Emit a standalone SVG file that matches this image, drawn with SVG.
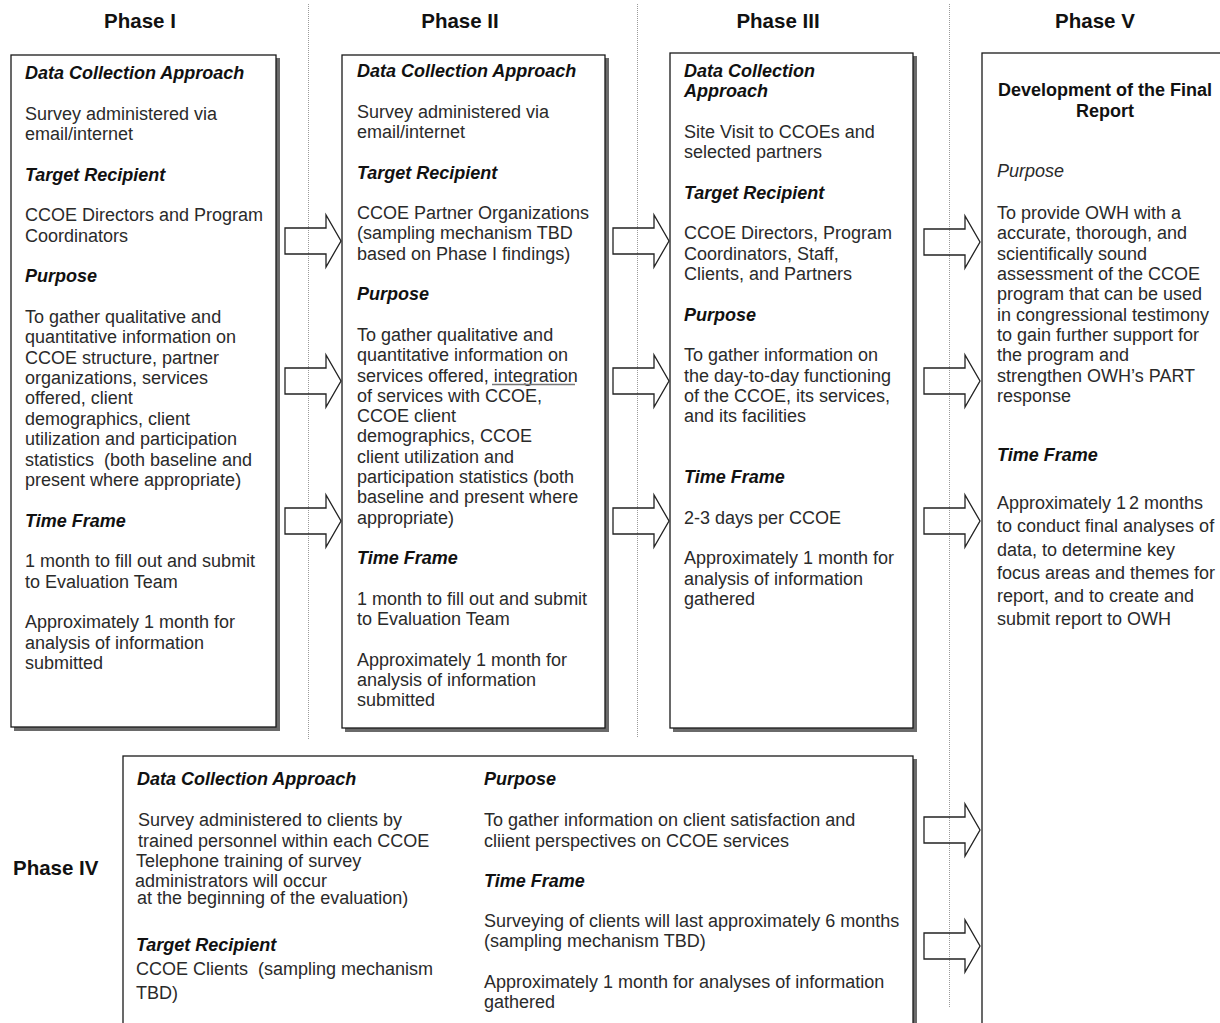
<svg xmlns="http://www.w3.org/2000/svg" width="1220" height="1023" viewBox="0 0 1220 1023">
<style>
text{font-family:"Liberation Sans",Arial,sans-serif;font-size:18px;fill:#2a2a2a}
.h{font-style:italic;font-weight:bold;fill:#111}
.i{font-style:italic}
.bd{font-weight:bold;fill:#111}
.ph{font-weight:bold;font-size:20.5px;fill:#111}
.box{fill:#fff;stroke:#1a1a1a;stroke-width:1.3}
.sh{fill:#6a6a6a}
.guide{stroke:#9a9a9a;stroke-width:1;stroke-dasharray:1 1;fill:none}
.arr{fill:none;stroke:#222;stroke-width:1.3;stroke-linejoin:miter}
</style>
<defs>
<path id="ar" d="M0,-13 H41 V-26 L56,0 L41,26 V13 H0 Z"/>
</defs>
<rect width="1220" height="1023" fill="#fff"/>

<g id="guides">
<line class="guide" x1="308.5" y1="4" x2="308.5" y2="740"/>
<line class="guide" x1="637.5" y1="4" x2="637.5" y2="737"/>
<line class="guide" x1="949.5" y1="4" x2="949.5" y2="1008"/>
</g>

<g id="headers">
<text class="ph" x="140" y="28" text-anchor="middle">Phase I</text>
<text class="ph" x="460" y="28" text-anchor="middle">Phase II</text>
<text class="ph" x="778" y="28" text-anchor="middle">Phase III</text>
<text class="ph" x="1095" y="28" text-anchor="middle">Phase V</text>
<text class="ph" x="13" y="875">Phase IV</text>
</g>

<g id="phase1">
<rect class="sh" x="14" y="58" width="266" height="673"/>
<rect class="box" x="11" y="55" width="265" height="672"/>
<text class="h" x="25" y="79">Data Collection Approach</text>
<text x="25" y="119.6">Survey administered via</text>
<text x="25" y="140">email/internet</text>
<text class="h" x="25" y="180.5">Target Recipient</text>
<text x="25" y="221">CCOE Directors and Program</text>
<text x="25" y="241.5">Coordinators</text>
<text class="h" x="25" y="282">Purpose</text>
<text x="25" y="322.6">To gather qualitative and</text>
<text x="25" y="343">quantitative information on</text>
<text x="25" y="363.5">CCOE structure, partner</text>
<text x="25" y="384">organizations, services</text>
<text x="25" y="404.3">offered, client</text>
<text x="25" y="424.7">demographics, client</text>
<text x="25" y="445">utilization and participation</text>
<text x="25" y="465.5" xml:space="preserve">statistics  (both baseline and</text>
<text x="25" y="486">present where appropriate)</text>
<text class="h" x="25" y="526.6">Time Frame</text>
<text x="25" y="567">1 month to fill out and submit</text>
<text x="25" y="587.5">to Evaluation Team</text>
<text x="25" y="628">Approximately 1 month for</text>
<text x="25" y="648.5">analysis of information</text>
<text x="25" y="669">submitted</text>
</g>

<g id="phase2">
<rect class="sh" x="345" y="58" width="264" height="674"/>
<rect class="box" x="342" y="55" width="263" height="673"/>
<text class="h" x="357" y="77">Data Collection Approach</text>
<text x="357" y="117.6">Survey administered via</text>
<text x="357" y="138">email/internet</text>
<text class="h" x="357" y="178.5">Target Recipient</text>
<text x="357" y="219">CCOE Partner Organizations</text>
<text x="357" y="239.4">(sampling mechanism TBD</text>
<text x="357" y="259.7">based on Phase I findings)</text>
<text class="h" x="357" y="300.3">Purpose</text>
<text x="357" y="341">To gather qualitative and</text>
<text x="357" y="361.2">quantitative information on</text>
<text x="357" y="381.5">services offered, integration</text>
<line x1="492" y1="384.5" x2="575" y2="384.5" stroke="#777" stroke-width="1.6"/>
<text x="357" y="401.8">of services with CCOE,</text>
<text x="357" y="422.1">CCOE client</text>
<text x="357" y="442.4">demographics, CCOE</text>
<text x="357" y="462.7">client utilization and</text>
<text x="357" y="483">participation statistics (both</text>
<text x="357" y="503.3">baseline and present where</text>
<text x="357" y="523.6">appropriate)</text>
<text class="h" x="357" y="564.2">Time Frame</text>
<text x="357" y="604.8">1 month to fill out and submit</text>
<text x="357" y="625.1">to Evaluation Team</text>
<text x="357" y="665.7">Approximately 1 month for</text>
<text x="357" y="686">analysis of information</text>
<text x="357" y="706.3">submitted</text>
</g>

<g id="phase3">
<rect class="sh" x="673" y="56" width="244" height="676"/>
<rect class="box" x="670" y="53" width="243" height="675"/>
<text class="h" x="684" y="77">Data Collection</text>
<text class="h" x="684" y="97.3">Approach</text>
<text x="684" y="137.9">Site Visit to CCOEs and</text>
<text x="684" y="158.2">selected partners</text>
<text class="h" x="684" y="198.8">Target Recipient</text>
<text x="684" y="239.4">CCOE Directors, Program</text>
<text x="684" y="259.7">Coordinators, Staff,</text>
<text x="684" y="280">Clients, and Partners</text>
<text class="h" x="684" y="320.6">Purpose</text>
<text x="684" y="361.2">To gather information on</text>
<text x="684" y="381.5">the day-to-day functioning</text>
<text x="684" y="401.8">of the CCOE, its services,</text>
<text x="684" y="422.1">and its facilities</text>
<text class="h" x="684" y="483">Time Frame</text>
<text x="684" y="523.6">2-3 days per CCOE</text>
<text x="684" y="564.2">Approximately 1 month for</text>
<text x="684" y="584.5">analysis of information</text>
<text x="684" y="604.8">gathered</text>
</g>

<g id="phase4">
<rect class="sh" x="126" y="759" width="791" height="290"/>
<rect class="box" x="123" y="756" width="790" height="290"/>
<text class="h" x="137" y="785">Data Collection Approach</text>
<text x="138" y="826">Survey administered to clients by</text>
<text x="138" y="846.5">trained personnel within each CCOE</text>
<text x="136" y="866.5">Telephone training of survey</text>
<text x="135" y="886.5">administrators will occur</text>
<text x="137" y="904">at the beginning of the evaluation)</text>
<text class="h" x="136" y="951">Target Recipient</text>
<text x="136" y="975" xml:space="preserve">CCOE Clients  (sampling mechanism</text>
<text x="136" y="999">TBD)</text>
<text class="h" x="484" y="785">Purpose</text>
<text x="484" y="826">To gather information on client satisfaction and</text>
<text x="484" y="846.5">cliient perspectives on CCOE services</text>
<text class="h" x="484" y="887">Time Frame</text>
<text x="484" y="926.5">Surveying of clients will last approximately 6 months</text>
<text x="484" y="947">(sampling mechanism TBD)</text>
<text x="484" y="988">Approximately 1 month for analyses of information</text>
<text x="484" y="1008">gathered</text>
</g>

<g id="phase5">
<rect class="box" x="982" y="53" width="260" height="1000"/>
<text class="bd" x="1105" y="96" text-anchor="middle">Development of the Final</text>
<text class="bd" x="1105" y="117" text-anchor="middle">Report</text>
<text class="i" x="997" y="177">Purpose</text>
<text x="997" y="219">To provide OWH with a</text>
<text x="997" y="239.4">accurate, thorough, and</text>
<text x="997" y="259.7">scientifically sound</text>
<text x="997" y="280">assessment of the CCOE</text>
<text x="997" y="300.3">program that can be used</text>
<text x="997" y="320.6">in congressional testimony</text>
<text x="997" y="341">to gain further support for</text>
<text x="997" y="361.2">the program and</text>
<text x="997" y="381.5">strengthen OWH’s PART</text>
<text x="997" y="401.8">response</text>
<text class="h" x="997" y="461">Time Frame</text>
<text x="997" y="509">Approximately 1<tspan dx="3">2</tspan> months</text>
<text x="997" y="532">to conduct final analyses of</text>
<text x="997" y="555.5">data, to determine key</text>
<text x="997" y="579">focus areas and themes for</text>
<text x="997" y="602">report, and to create and</text>
<text x="997" y="625">submit report to OWH</text>
</g>

<g id="connectors">
<use href="#ar" class="arr" x="285" y="241"/>
<use href="#ar" class="arr" x="285" y="381"/>
<use href="#ar" class="arr" x="285" y="521"/>
<use href="#ar" class="arr" x="613" y="241"/>
<use href="#ar" class="arr" x="613" y="381"/>
<use href="#ar" class="arr" x="613" y="521"/>
<use href="#ar" class="arr" x="924" y="242"/>
<use href="#ar" class="arr" x="924" y="381"/>
<use href="#ar" class="arr" x="924" y="521"/>
<use href="#ar" class="arr" x="924" y="830"/>
<use href="#ar" class="arr" x="924" y="946"/>
</g>
</svg>
